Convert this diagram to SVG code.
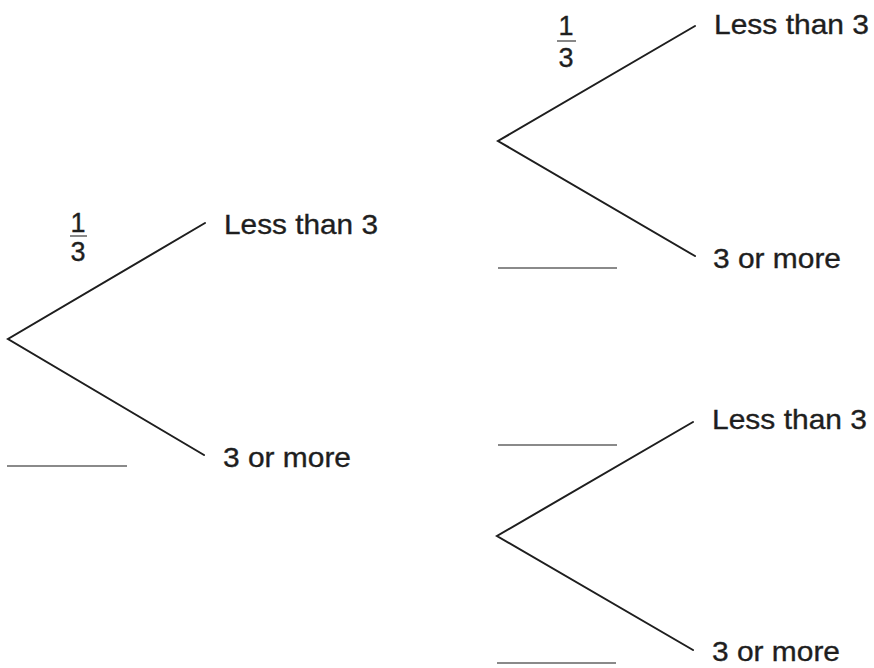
<svg xmlns="http://www.w3.org/2000/svg" width="874" height="668" viewBox="0 0 874 668">
<style>
.br{stroke:#1e1e1e;stroke-width:2;fill:none;stroke-linecap:round}
.bl{stroke:#8a8a8a;stroke-width:2.2;fill:none}
.fb{stroke:#555;stroke-width:1.4}
text{font-family:"Liberation Sans",Arial,sans-serif;font-size:28.5px;fill:#1e1e1e;stroke:#1e1e1e;stroke-width:0.35}
.fr{text-anchor:middle;font-size:27px}
</style>
<rect width="874" height="668" fill="#fff"/>
<g id="connectors">
<polyline class="br" points="205,223 8,339 204,455"/>
<polyline class="br" points="695,26 498,141 695,256"/>
<polyline class="br" points="693,422 497,536 693,650"/>
</g>
<g id="root">
<text class="fr" x="78" y="232">1</text>
<line class="fb" x1="70" y1="236" x2="87" y2="236"/>
<text class="fr" x="78" y="261">3</text>
<line class="bl" x1="7" y1="466" x2="127" y2="466"/>
</g>
<g id="left-less">
<text x="224" y="234" textLength="154" lengthAdjust="spacingAndGlyphs">Less than 3</text>
</g>
<g id="left-more">
<text x="223" y="467" textLength="128" lengthAdjust="spacingAndGlyphs">3 or more</text>
</g>
<g id="upper-branch">
<text class="fr" x="566" y="35">1</text>
<line class="fb" x1="557" y1="41" x2="576" y2="41"/>
<text class="fr" x="566" y="67">3</text>
<line class="bl" x1="498" y1="268" x2="617" y2="268"/>
</g>
<g id="upper-less">
<text x="714" y="34" textLength="155" lengthAdjust="spacingAndGlyphs">Less than 3</text>
</g>
<g id="upper-more">
<text x="713" y="268" textLength="128" lengthAdjust="spacingAndGlyphs">3 or more</text>
</g>
<g id="lower-branch">
<line class="bl" x1="498" y1="445" x2="617" y2="445"/>
<line class="bl" x1="497" y1="663" x2="616" y2="663"/>
</g>
<g id="lower-less">
<text x="712" y="429" textLength="155" lengthAdjust="spacingAndGlyphs">Less than 3</text>
</g>
<g id="lower-more">
<text x="712" y="661" textLength="128" lengthAdjust="spacingAndGlyphs">3 or more</text>
</g>
</svg>
